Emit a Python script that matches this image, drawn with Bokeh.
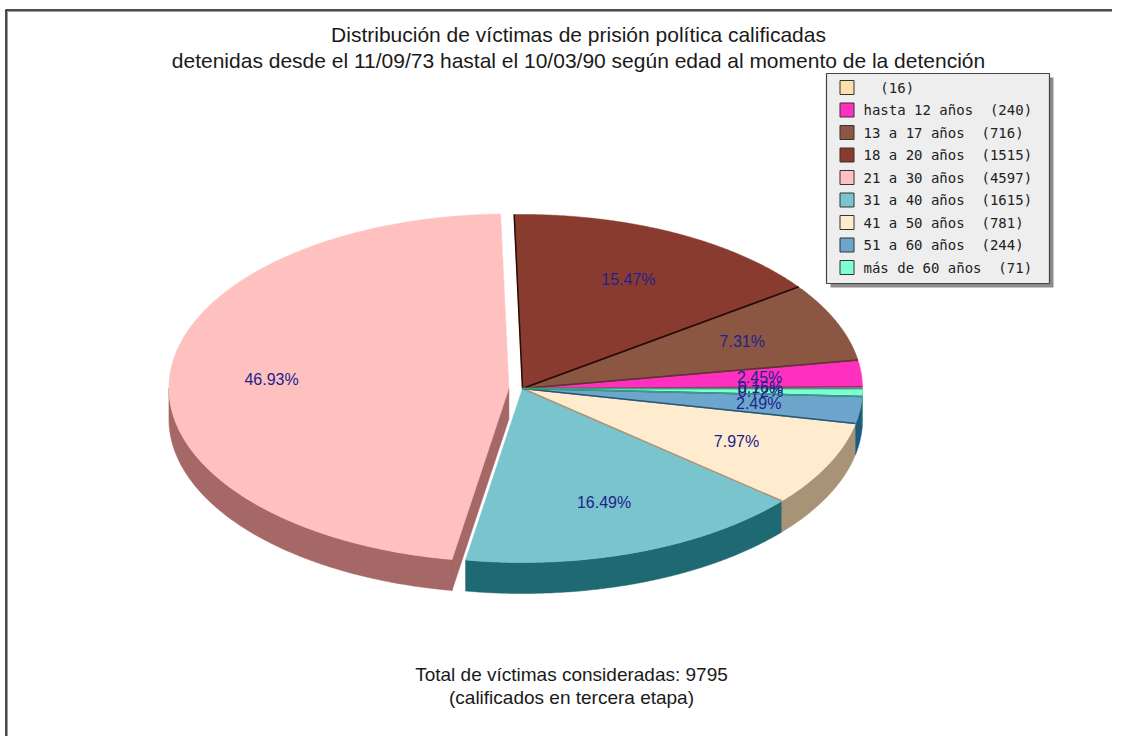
import numpy as np
from bokeh.plotting import figure
from bokeh.models import Range1d
from bokeh.embed import file_html
from bokeh.resources import INLINE
from bokeh.core.properties import value

# ---------------- data ----------------
title_lines = [
    "Distribución de víctimas de prisión política calificadas",
    "detenidas desde el 11/09/73 hastal el 10/03/90 según edad al momento de la detención",
]
categories = ["", "hasta 12 años", "13 a 17 años", "18 a 20 años", "21 a 30 años",
              "31 a 40 años", "41 a 50 años", "51 a 60 años", "más de 60 años"]
counts = [16, 240, 716, 1515, 4597, 1615, 781, 244, 71]
exploded_category = "21 a 30 años"
footer_note = "(calificados en tercera etapa)"

# ---------------- style ----------------
top_colors = ["#FFDEAD", "#FF30C0", "#8B5742", "#8A3B2F", "#FFC0C0",
              "#7AC5CD", "#FFEBCD", "#6CA6CD", "#7FFFD4"]
side_colors = ["#A8906E", "#A6207D", "#5A382A", "#3A1008", "#A66767",
               "#1F6A72", "#A89376", "#1D5A80", "#3E9C80"]
edge_colors = ["#A8906E", "#A6207D", "#5A382A", "#2A0A05", None,
               None, "#A89376", "#1D5A80", "#3E9C80"]
label_color = "#22228C"
text_color = "#1A1A1A"
FONT = value("Liberation Sans")
MONO = value("DejaVu Sans Mono")

# ---------------- layout (picture pixels) ----------------
W, H = 1112, 736
ORIGIN = 0
CX, CY, RX, RY = 522.0, 388.0, 340.0, 174.0
DEPTH = 31.0 / RY
EXPLODE = 0.04
START = 0.0
LABEL_R = 0.70


def dx(X):
    return (X - CX) / RX


def dy(Y):
    return (CY - Y) / RY


p = figure(width=W, height=H,
           x_range=Range1d(dx(ORIGIN), dx(ORIGIN + W)),
           y_range=Range1d(dy(ORIGIN + H), dy(ORIGIN)),
           output_backend="svg", toolbar_location=None, min_border=0,
           x_axis_location=None, y_axis_location=None)
p.grid.visible = False
p.outline_line_color = None
p.background_fill_color = "white"
p.border_fill_color = "white"

# ---------------- pie geometry ----------------
vals = np.array(counts, dtype=float)
total = vals.sum()
frac = vals / total
ends = START + 360.0 * np.cumsum(frac)
starts = ends - 360.0 * frac


def arc(a, b, ox, oy, drop=0.0):
    n = max(2, int(abs(b - a) / 0.5) + 2)
    t = np.radians(np.linspace(a, b, n))
    return list(ox + np.cos(t)), list(oy + np.sin(t) - drop)


offsets = []
for i, cat in enumerate(categories):
    if cat == exploded_category:
        m = np.radians((starts[i] + ends[i]) / 2)
        offsets.append((EXPLODE * np.cos(m), EXPLODE * np.sin(m)))
    else:
        offsets.append((0.0, 0.0))

rw_xs, rw_ys, rw_c = [], [], []
cw_xs, cw_ys, cw_c = [], [], []
tp_xs, tp_ys, tp_c = [], [], []
ed_xs, ed_ys, ed_c = [], [], []
lb_x, lb_y, lb_t = [], [], []

for i in range(len(counts)):
    a, b = starts[i], ends[i]
    ox, oy = offsets[i]
    # radial walls (only seen for exploded slices)
    if ox != 0 or oy != 0:
        for ang, vis in ((a, np.cos(np.radians(a)) > 0), (b, np.cos(np.radians(b)) < 0)):
            if vis:
                ex = ox + np.cos(np.radians(ang))
                ey = oy + np.sin(np.radians(ang))
                rw_xs.append([ox, ex, ex, ox])
                rw_ys.append([oy, ey, ey - DEPTH, oy - DEPTH])
                rw_c.append(side_colors[i])
    # curved front wall
    lo, hi = max(a, 180.0), min(b, 360.0)
    if hi > lo:
        xt, yt = arc(lo, hi, ox, oy)
        xb, yb = arc(lo, hi, ox, oy, DEPTH)
        cw_xs.append(xt + xb[::-1])
        cw_ys.append(yt + yb[::-1])
        cw_c.append(side_colors[i])
    # top face
    xt, yt = arc(a, b, ox, oy)
    tp_xs.append([ox] + xt)
    tp_ys.append([oy] + yt)
    tp_c.append(top_colors[i])
    # radial edge lines
    if edge_colors[i] is not None:
        for ang in (a, b):
            ed_xs.append([ox, ox + np.cos(np.radians(ang))])
            ed_ys.append([oy, oy + np.sin(np.radians(ang))])
            ed_c.append(edge_colors[i])
    # percentage label
    m = np.radians((a + b) / 2)
    lb_x.append(ox + LABEL_R * np.cos(m))
    lb_y.append(oy + LABEL_R * np.sin(m))
    lb_t.append(f"{frac[i] * 100:.2f}%")

if rw_xs:
    p.patches(rw_xs, rw_ys, fill_color=rw_c, line_color=rw_c, line_width=0.5)
p.patches(cw_xs, cw_ys, fill_color=cw_c, line_color=cw_c, line_width=0.5)
p.patches(tp_xs, tp_ys, fill_color=tp_c, line_color=tp_c, line_width=0.5)
p.multi_line(ed_xs, ed_ys, line_color=ed_c, line_width=1.5)

p.text(lb_x, lb_y, text=lb_t, text_align="center", text_baseline="middle",
       text_font=FONT, text_font_size="16px", text_color=label_color)

# ---------------- titles ----------------
TITLE_X = 578
TITLE_BASE = [34, 60]
p.text([dx(TITLE_X)] * 2, [dy(v) for v in TITLE_BASE], text=title_lines,
       text_align="center", text_baseline="alphabetic",
       text_font=FONT, text_font_size="21px", text_color=text_color)

footer_lines = [f"Total de víctimas consideradas: {int(total)}", footer_note]
FOOT_X = 571
FOOT_BASE = [674, 697]
p.text([dx(FOOT_X)] * 2, [dy(v) for v in FOOT_BASE], text=footer_lines,
       text_align="center", text_baseline="alphabetic",
       text_font=FONT, text_font_size="19px", text_color=text_color)

# ---------------- legend ----------------
LEG_L, LEG_T, LEG_R, LEG_B = 826, 73, 1049, 283
SHADOW = 4
p.quad(left=[dx(LEG_L + SHADOW)], right=[dx(LEG_R + SHADOW)],
       top=[dy(LEG_T + SHADOW)], bottom=[dy(LEG_B + SHADOW)],
       fill_color="#8C8C8C", line_color=None)
p.quad(left=[dx(LEG_L)], right=[dx(LEG_R)], top=[dy(LEG_T)], bottom=[dy(LEG_B)],
       fill_color="#EEEEEE", line_color="#444444", line_width=1.2)

ROW0, ROW_DY = 87.0, 22.5
SW_L, SW = 839.5, 14.0
TXT_X = 863
rows = [ROW0 + ROW_DY * k for k in range(len(categories))]
p.quad(left=[dx(SW_L)] * len(rows), right=[dx(SW_L + SW)] * len(rows),
       top=[dy(r - SW / 2) for r in rows], bottom=[dy(r + SW / 2) for r in rows],
       fill_color=top_colors, line_color="#333333", line_width=1)
GAP = "\u00a0\u00a0"  # two non-collapsing spaces, as in the original legend
leg_text = [f"{c}{GAP}({n})" for c, n in zip(categories, counts)]
p.text([dx(TXT_X)] * len(rows), [dy(r) for r in rows], text=leg_text,
       text_align="left", text_baseline="middle",
       text_font=MONO, text_font_size="14px", text_color="#222222")

# ---------------- image frame ----------------
p.line([dx(5), dx(ORIGIN + W)], [dy(9.5), dy(9.5)], line_color="#111111", line_width=1.5)
p.line([dx(6.5), dx(ORIGIN + W)], [dy(11), dy(11)], line_color="#9A9A9A", line_width=1)
p.line([dx(5.5), dx(5.5)], [dy(9.5), dy(ORIGIN + H)], line_color="#111111", line_width=1.5)
p.line([dx(7), dx(7)], [dy(11), dy(ORIGIN + H)], line_color="#9A9A9A", line_width=1)

open("out.html", "w").write(file_html(p, INLINE))
